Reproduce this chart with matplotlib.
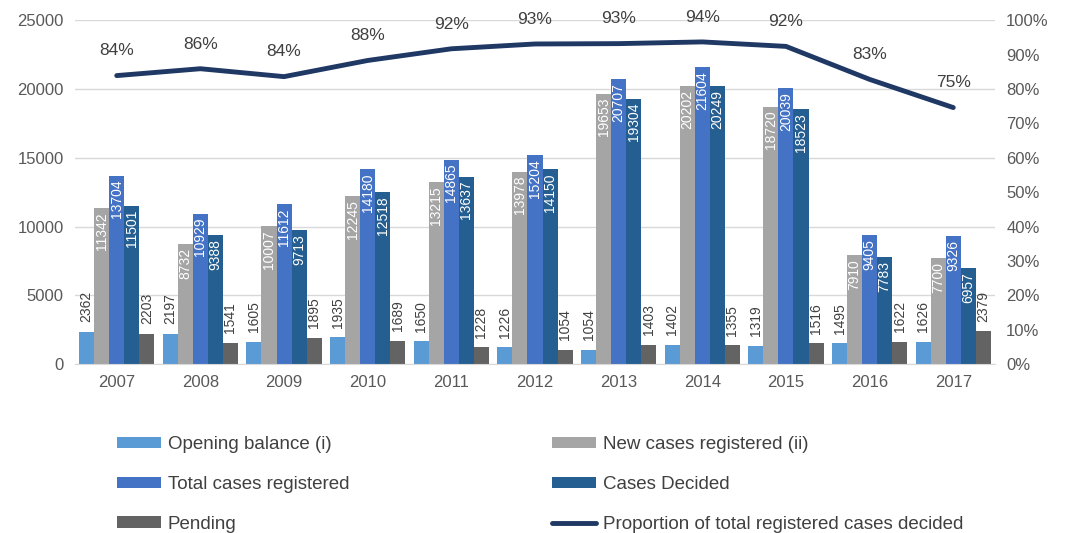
import numpy as np
import matplotlib
matplotlib.use("Agg")
import matplotlib.pyplot as plt
from matplotlib.ticker import PercentFormatter

plt.rcParams['font.family'] = ['Liberation Sans', 'DejaVu Sans']

years = ['2007', '2008', '2009', '2010', '2011', '2012', '2013', '2014', '2015', '2016', '2017']
opening = [2362, 2197, 1605, 1935, 1650, 1226, 1054, 1402, 1319, 1495, 1626]
new_cases = [11342, 8732, 10007, 12245, 13215, 13978, 19653, 20202, 18720, 7910, 7700]
total = [13704, 10929, 11612, 14180, 14865, 15204, 20707, 21604, 20039, 9405, 9326]
decided = [11501, 9388, 9713, 12518, 13637, 14150, 19304, 20249, 18523, 7783, 6957]
pending = [2203, 1541, 1895, 1689, 1228, 1054, 1403, 1355, 1516, 1622, 2379]
proportion = [0.839, 0.859, 0.836, 0.883, 0.917, 0.931, 0.932, 0.937, 0.924, 0.828, 0.746]

series = [
    ("Opening balance (i)", opening, '#5B9BD5', 'out'),
    ("New cases registered (ii)", new_cases, '#A5A5A5', 'in'),
    ("Total cases registered", total, '#4472C4', 'in'),
    ("Cases Decided", decided, '#255E91', 'in'),
    ("Pending", pending, '#636363', 'out'),
]

fig = plt.figure(figsize=(10.7, 5.33), dpi=100)
ax = fig.add_axes([0.070, 0.317, 0.860, 0.645])
ax2 = ax.twinx()

x = np.arange(len(years))
barW = 0.18
handles = []
for i, (name, vals, col, pos) in enumerate(series):
    xs = x + (i - 2) * barW
    b = ax.bar(xs, vals, width=barW, color=col, label=name, zorder=2)
    handles.append(b)
    for xi, v in zip(xs, vals):
        if pos == 'in':
            ax.text(xi, v - 300, str(v), rotation=90, ha='center', va='top',
                    color='white', fontsize=10, zorder=3)
        else:
            ax.text(xi, v + 700, str(v), rotation=90, ha='center', va='bottom',
                    color='#404040', fontsize=10, zorder=3)

ax.set_xlim(-0.5, len(years) - 0.5)
ax.set_ylim(0, 25000)
ax.set_yticks(range(0, 25001, 5000))
ax.grid(axis='y', color='#D9D9D9', linewidth=1, zorder=0)
ax.set_axisbelow(True)
ax.set_xticks(x)
ax.set_xticklabels(years)
for s in ['top', 'left', 'right']:
    ax.spines[s].set_visible(False)
ax.spines['bottom'].set_color('#D9D9D9')
ax.tick_params(axis='both', length=0, labelsize=12, colors='#595959', pad=8)

line, = ax2.plot(x, proportion, color='#1F3864', linewidth=3.5, zorder=4,
                 solid_capstyle='round', label="Proportion of total registered cases decided")
for xi, p in zip(x, proportion):
    ax2.text(xi, p + 0.05, "%d%%" % round(p * 100), ha='center', va='bottom',
             color='#404040', fontsize=12.5)
ax2.set_ylim(0, 1)
ax2.set_yticks(np.arange(0, 1.01, 0.1))
ax2.yaxis.set_major_formatter(PercentFormatter(1.0, decimals=0))
for s in ['top', 'left', 'right', 'bottom']:
    ax2.spines[s].set_visible(False)
ax2.tick_params(axis='y', length=0, labelsize=12, colors='#595959', pad=8)

handles.append(line)
cols = [([0, 2, 4], 117), ([1, 3, 5], 552)]
for idx, xpos in cols:
    leg = fig.legend([handles[k] for k in idx], [handles[k].get_label() for k in idx],
                     loc='upper left', bbox_to_anchor=(xpos / 1070, 1 - 436 / 533),
                     ncol=1, frameon=False, borderpad=0, borderaxespad=0,
                     fontsize=13.5, labelcolor='#404040', handlelength=2.35, handleheight=0.55,
                     handletextpad=0.35, labelspacing=1.22)

fig.savefig("out.png", dpi=100)
